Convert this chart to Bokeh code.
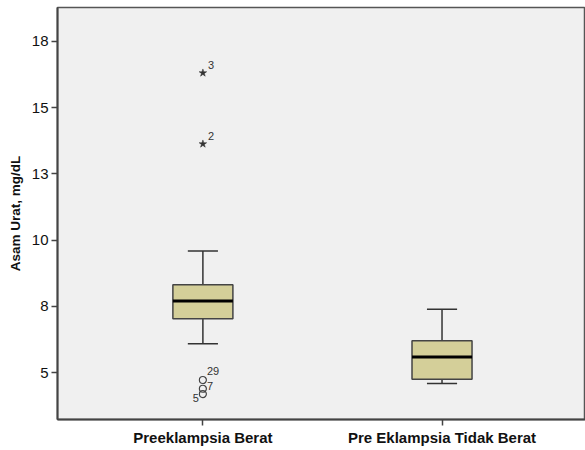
from bokeh.plotting import figure
from bokeh.models import FixedTicker, Range1d, ColumnDataSource
from bokeh.embed import file_html
from bokeh.resources import INLINE
from bokeh.core.properties import value

# ---- data ----
categories = ["Preeklampsia Berat", "Pre Eklampsia Tidak Berat"]
cat_pos = [1, 2]
q1 = [7.03, 4.75]
median = [7.70, 5.59]
q3 = [8.32, 6.20]
whisker_low = [6.09, 4.59]
whisker_high = [9.59, 7.39]

# outliers (circles) and extremes (stars) of group 1
outlier_x = [1, 1, 1]
outlier_y = [4.72, 4.39, 4.19]
outlier_lbl = ["29", "7", "5"]
extreme_x = [1, 1]
extreme_y = [16.31, 13.63]
extreme_lbl = ["3", "2"]

y_ticks = [5, 7.5, 10, 12.5, 15, 17.5]
y_tick_labels = ["5", "8", "10", "13", "15", "18"]

# ---- figure ----
p = figure(frame_width=528, frame_height=412,
           x_range=Range1d(0.392, 2.6), y_range=Range1d(3.23, 18.78),
           output_backend="svg", toolbar_location=None,
           min_border_top=7, min_border_right=0, min_border_left=57,
           min_border_bottom=31)
p.background_fill_color = "#f0f0f0"
p.border_fill_color = "white"
p.outline_line_color = "#555555"
p.outline_line_width = 1.5
p.grid.visible = False

box_w = 0.251
cap_w = 0.126
src = ColumnDataSource(dict(x=cat_pos, q1=q1, med=median, q3=q3,
                            lo=whisker_low, hi=whisker_high,
                            cl=[c - cap_w / 2 for c in cat_pos],
                            cr=[c + cap_w / 2 for c in cat_pos],
                            bl=[c - box_w / 2 for c in cat_pos],
                            br=[c + box_w / 2 for c in cat_pos]))

wcol = "#333333"
# whiskers
p.segment(x0="x", y0="q3", x1="x", y1="hi", source=src, line_color=wcol, line_width=1.5)
p.segment(x0="x", y0="q1", x1="x", y1="lo", source=src, line_color=wcol, line_width=1.5)
p.segment(x0="cl", y0="hi", x1="cr", y1="hi", source=src, line_color=wcol, line_width=1.5)
p.segment(x0="cl", y0="lo", x1="cr", y1="lo", source=src, line_color=wcol, line_width=1.5)
# box
p.quad(left="bl", right="br", bottom="q1", top="q3", source=src,
       fill_color="#d4cf99", line_color="#444444", line_width=1.5)
# median
p.segment(x0="bl", y0="med", x1="br", y1="med", source=src, line_color="black", line_width=3)

# outliers
p.scatter(outlier_x, outlier_y, marker="circle", size=7, fill_color=None,
          line_color="#444444", line_width=1.2)
p.scatter(extreme_x, extreme_y, marker="star", size=8, fill_color="#333333",
          line_color="#333333", line_width=0.5)

tfont = value("Liberation Sans")
p.text(x=extreme_x, y=extreme_y, text=extreme_lbl, x_offset=5, y_offset=-4,
       text_baseline="bottom", text_align="left", text_font=tfont,
       text_font_size="11px", text_color="#333333")
p.text(x=[outlier_x[0]], y=[outlier_y[0]], text=[outlier_lbl[0]], x_offset=4, y_offset=-5,
       text_baseline="bottom", text_align="left", text_font=tfont,
       text_font_size="11px", text_color="#333333")
p.text(x=[outlier_x[1]], y=[outlier_y[1]], text=[outlier_lbl[1]], x_offset=4, y_offset=-3,
       text_baseline="middle", text_align="left", text_font=tfont,
       text_font_size="11px", text_color="#333333")
p.text(x=[outlier_x[2]], y=[outlier_y[2]], text=[outlier_lbl[2]], x_offset=-4, y_offset=0,
       text_baseline="top", text_align="right", text_font=tfont,
       text_font_size="11px", text_color="#333333")

# axes
p.xaxis.ticker = FixedTicker(ticks=cat_pos)
p.xaxis.major_label_overrides = {c: n for c, n in zip(cat_pos, categories)}
p.yaxis.ticker = FixedTicker(ticks=y_ticks)
p.yaxis.major_label_overrides = {t: l for t, l in zip(y_ticks, y_tick_labels)}
p.axis.minor_tick_line_color = None
p.axis.axis_line_color = "#444444"
p.axis.axis_line_width = 2
p.axis.major_tick_line_color = "#444444"
p.axis.major_tick_line_width = 1.5
p.axis.major_tick_in = 0
p.axis.major_tick_out = 6
p.axis.major_label_text_font = "Liberation Sans"
p.axis.major_label_text_color = "#111111"
p.xaxis.major_label_text_font_size = "15px"
p.xaxis.major_label_text_font_style = "bold"
p.xaxis.major_label_standoff = 3
p.yaxis.major_label_text_font_size = "15px"
p.yaxis.major_label_standoff = 3
p.yaxis.axis_label = "Asam Urat, mg/dL"
p.yaxis.axis_label_text_font = "Liberation Sans"
p.yaxis.axis_label_text_font_size = "13.5px"
p.yaxis.axis_label_text_font_style = "bold"
p.yaxis.axis_label_text_color = "#111111"
p.yaxis.axis_label_standoff = 6

open("out.html", "w").write(file_html(p, INLINE))
